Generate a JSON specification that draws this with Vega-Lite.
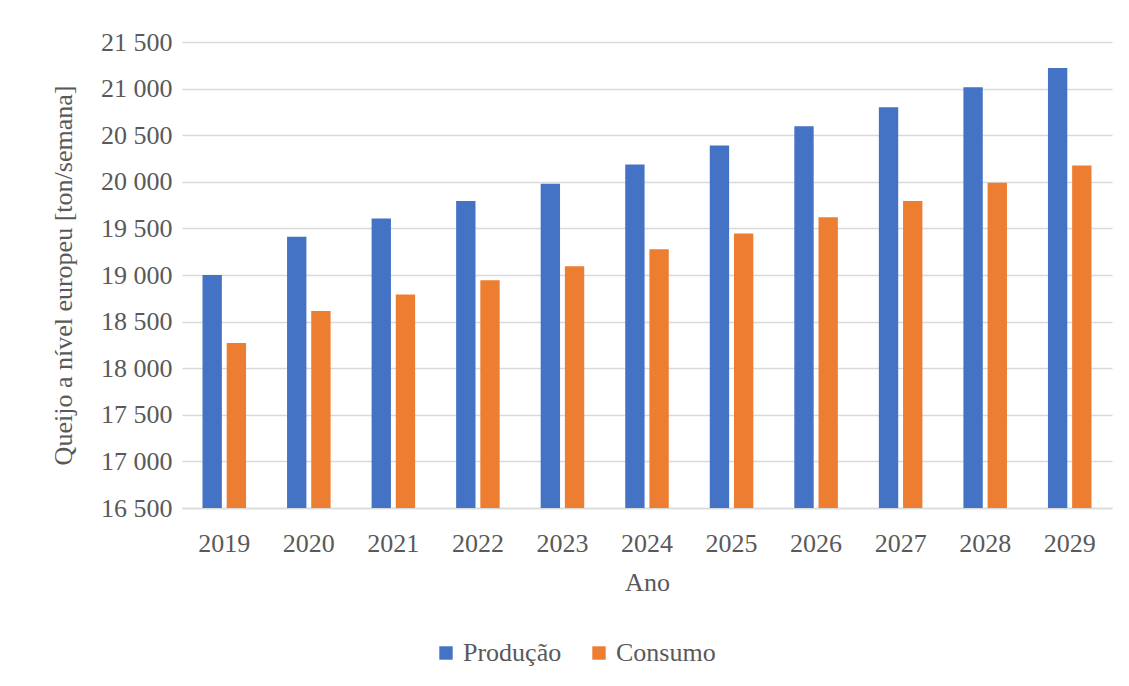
{
  "$schema": "https://vega.github.io/schema/vega-lite/v6.json",
  "autosize": {"type": "none"},
  "width": 930,
  "height": 466,
  "padding": {"left": 182, "top": 42, "right": 17, "bottom": 178},
  "background": "white",
  "config": {
    "font": "Liberation Serif",
    "view": {"stroke": null},
    "axis": {"labelColor": "#595959", "titleColor": "#595959", "labelFont": "Liberation Serif", "titleFont": "Liberation Serif", "titleFontWeight": "normal"},
    "legend": {"labelColor": "#595959", "labelFont": "Liberation Serif"}
  },
  "data": {
    "values": [
      {"ano": "2019", "serie": "Produção", "valor": 19000},
      {"ano": "2019", "serie": "Consumo", "valor": 18270},
      {"ano": "2020", "serie": "Produção", "valor": 19410},
      {"ano": "2020", "serie": "Consumo", "valor": 18615},
      {"ano": "2021", "serie": "Produção", "valor": 19605},
      {"ano": "2021", "serie": "Consumo", "valor": 18790},
      {"ano": "2022", "serie": "Produção", "valor": 19795},
      {"ano": "2022", "serie": "Consumo", "valor": 18945},
      {"ano": "2023", "serie": "Produção", "valor": 19980},
      {"ano": "2023", "serie": "Consumo", "valor": 19095},
      {"ano": "2024", "serie": "Produção", "valor": 20185},
      {"ano": "2024", "serie": "Consumo", "valor": 19275},
      {"ano": "2025", "serie": "Produção", "valor": 20390},
      {"ano": "2025", "serie": "Consumo", "valor": 19445},
      {"ano": "2026", "serie": "Produção", "valor": 20595},
      {"ano": "2026", "serie": "Consumo", "valor": 19620},
      {"ano": "2027", "serie": "Produção", "valor": 20800},
      {"ano": "2027", "serie": "Consumo", "valor": 19795},
      {"ano": "2028", "serie": "Produção", "valor": 21015},
      {"ano": "2028", "serie": "Consumo", "valor": 19990},
      {"ano": "2029", "serie": "Produção", "valor": 21220},
      {"ano": "2029", "serie": "Consumo", "valor": 20175}
    ]
  },
  "mark": {"type": "bar", "clip": true},
  "encoding": {
    "x": {
      "field": "ano",
      "type": "ordinal",
      "scale": {"paddingInner": 0.485, "paddingOuter": 0.2425},
      "axis": {
        "title": "Ano",
        "labelAngle": 0,
        "labelFontSize": 26,
        "titleFontSize": 26,
        "labelPadding": 22,
        "titlePadding": 13,
        "ticks": false,
        "domainColor": "#D9D9D9",
        "domainWidth": 1.5
      }
    },
    "xOffset": {
      "field": "serie",
      "type": "nominal",
      "scale": {"domain": ["Produção", "Consumo"], "paddingInner": 0.2}
    },
    "y": {
      "field": "valor",
      "type": "quantitative",
      "scale": {"domain": [16500, 21500], "zero": false, "nice": false},
      "axis": {
        "title": "Queijo a nível europeu [ton/semana]",
        "values": [16500, 17000, 17500, 18000, 18500, 19000, 19500, 20000, 20500, 21000, 21500],
        "labelExpr": "replace(format(datum.value, ','), ',', ' ')",
        "labelFontSize": 26,
        "titleFontSize": 26,
        "labelPadding": 10,
        "titlePadding": 24,
        "ticks": false,
        "domain": false,
        "gridColor": "#D9D9D9",
        "gridWidth": 1.5
      }
    },
    "color": {
      "field": "serie",
      "type": "nominal",
      "scale": {"domain": ["Produção", "Consumo"], "range": ["#4472C4", "#ED7D31"]},
      "legend": {
        "title": null,
        "orient": "none",
        "legendX": 251,
        "legendY": 598,
        "direction": "horizontal",
        "symbolType": "square",
        "symbolSize": 180,
        "symbolStrokeWidth": 0,
        "labelFontSize": 26,
        "labelOffset": 4,
        "columnPadding": 24
      }
    }
  }
}
